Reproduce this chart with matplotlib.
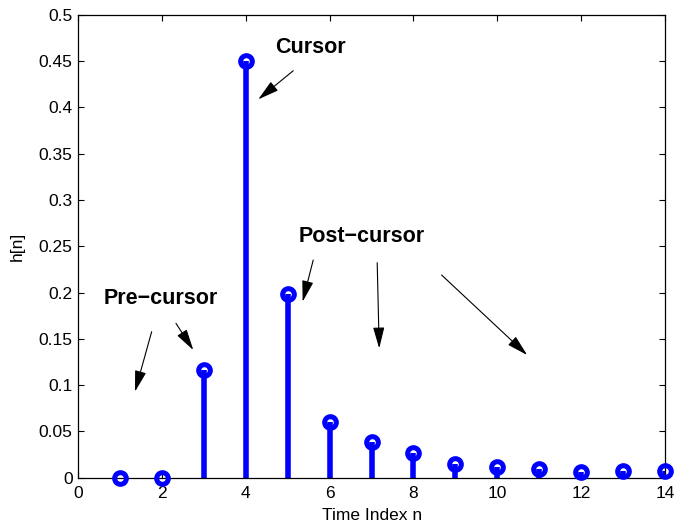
import matplotlib
matplotlib.use("Agg")
import matplotlib.pyplot as plt
from matplotlib.ticker import FormatStrFormatter

plt.rcParams['font.family'] = ['Liberation Sans', 'DejaVu Sans']

# impulse response samples
n = [1, 2, 3, 4, 5, 6, 7, 8, 9, 10, 11, 12, 13, 14]
h = [0.0, 0.0, 0.116, 0.45, 0.198, 0.060, 0.039, 0.027, 0.015, 0.012,
     0.0093, 0.0057, 0.0068, 0.0068]

x_ticks = [0, 2, 4, 6, 8, 10, 12, 14]
y_ticks = [0, 0.05, 0.1, 0.15, 0.2, 0.25, 0.3, 0.35, 0.4, 0.45, 0.5]

# labels and arrows (tail -> head) in data units
labels = [("Cursor", 5.53, 0.465),
          ("Pre\u2212cursor", 1.97, 0.194),
          ("Post\u2212cursor", 6.77, 0.261)]
arrows = [((5.13, 0.4395), (4.295, 0.4086)),
          ((1.751, 0.1577), (1.353, 0.0929)),
          ((2.331, 0.1667), (2.744, 0.1379)),
          ((5.607, 0.2351), (5.354, 0.1901)),
          ((7.134, 0.2322), (7.182, 0.1397)),
          ((8.671, 0.2189), (10.713, 0.1325))]

fig = plt.figure(figsize=(6.75, 5.23), dpi=100)
ax = fig.add_axes([0.116, 0.0866, 0.869, 0.8853])

blue = '#0000ff'
ax.vlines(n, 0, h, color=blue, linewidth=4.0, zorder=2)
ax.plot(n, h, 'o', markersize=8.4, markeredgewidth=3.6, markeredgecolor=blue,
        markerfacecolor='none', clip_on=False, zorder=3)

ax.set_xlim(0, 14)
ax.set_ylim(0, 0.5)
ax.set_xticks(x_ticks)
ax.set_yticks(y_ticks)
ax.yaxis.set_major_formatter(FormatStrFormatter('%g'))
ax.tick_params(direction='in', length=4, width=0.8, top=True, right=True,
               labelsize=12.5)
ax.tick_params(axis='x', pad=6)
ax.tick_params(axis='y', pad=4)
for s in ax.spines.values():
    s.set_linewidth(0.9)

ax.set_xlabel("Time Index n", fontsize=12.5, labelpad=5)
ax.set_ylabel("h[n]", fontsize=12.5, labelpad=10)

for txt, x, y in labels:
    ax.text(x, y, txt, fontsize=15.5, fontweight='bold', ha='center', va='center')

for tail, head in arrows:
    ax.annotate('', xy=head, xytext=tail,
                arrowprops=dict(arrowstyle='-|>,head_length=1.3,head_width=0.35',
                                color='black', lw=0.8, shrinkA=0, shrinkB=0))

fig.savefig("out.png", dpi=100)
